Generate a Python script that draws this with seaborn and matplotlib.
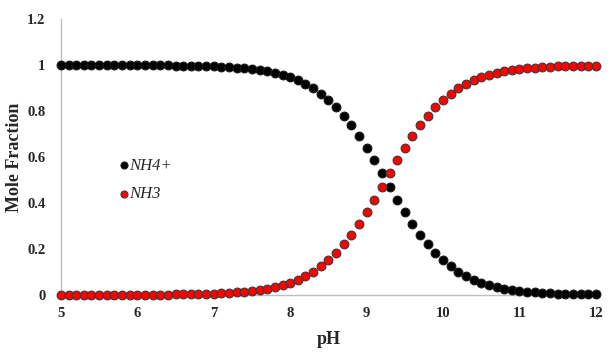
import matplotlib
matplotlib.use("Agg")
import matplotlib.pyplot as plt
import seaborn as sns
import pandas as pd

ph = [5.0, 5.1, 5.2, 5.3, 5.4, 5.5, 5.6, 5.7, 5.8, 5.9,
      6.0, 6.1, 6.2, 6.3, 6.4, 6.5, 6.6, 6.7, 6.8, 6.9,
      7.0, 7.1, 7.2, 7.3, 7.4, 7.5, 7.6, 7.7, 7.8, 7.9,
      8.0, 8.1, 8.2, 8.3, 8.4, 8.5, 8.6, 8.7, 8.8, 8.9,
      9.0, 9.1, 9.2, 9.3, 9.4, 9.5, 9.6, 9.7, 9.8, 9.9,
      10.0, 10.1, 10.2, 10.3, 10.4, 10.5, 10.6, 10.7, 10.8, 10.9,
      11.0, 11.1, 11.2, 11.3, 11.4, 11.5, 11.6, 11.7, 11.8, 11.9,
      12.0]

nh4 = [1.000, 1.000, 1.000, 1.000, 1.000, 1.000, 1.000, 1.000, 1.000, 0.999,
       0.999, 0.999, 0.999, 0.999, 0.999, 0.998, 0.998, 0.997, 0.996, 0.996,
       0.994, 0.993, 0.991, 0.989, 0.986, 0.983, 0.978, 0.973, 0.966, 0.957,
       0.947, 0.934, 0.918, 0.899, 0.876, 0.849, 0.817, 0.780, 0.738, 0.691,
       0.640, 0.585, 0.529, 0.471, 0.414, 0.360, 0.309, 0.262, 0.220, 0.183,
       0.151, 0.124, 0.101, 0.082, 0.066, 0.053, 0.043, 0.034, 0.027, 0.022,
       0.017, 0.014, 0.011, 0.009, 0.007, 0.006, 0.004, 0.004, 0.003, 0.002,
       0.002]

nh3 = [0.000, 0.000, 0.000, 0.000, 0.000, 0.000, 0.000, 0.000, 0.000, 0.001,
       0.001, 0.001, 0.001, 0.001, 0.001, 0.002, 0.002, 0.003, 0.004, 0.004,
       0.006, 0.007, 0.009, 0.011, 0.014, 0.017, 0.022, 0.027, 0.034, 0.043,
       0.053, 0.066, 0.082, 0.101, 0.124, 0.151, 0.183, 0.220, 0.262, 0.309,
       0.360, 0.414, 0.471, 0.529, 0.586, 0.640, 0.691, 0.738, 0.780, 0.817,
       0.849, 0.876, 0.899, 0.918, 0.934, 0.947, 0.957, 0.966, 0.973, 0.978,
       0.983, 0.986, 0.989, 0.991, 0.993, 0.994, 0.996, 0.996, 0.997, 0.998,
       0.998]

species = ["NH4+", "NH3"]
colors = {"NH4+": "#000000", "NH3": "#ff0000"}
edges = {"NH4+": "#1a1a1a", "NH3": "#3a3a3a"}

df = pd.concat([
    pd.DataFrame({"pH": ph, "frac": nh4, "species": "NH4+"}),
    pd.DataFrame({"pH": ph, "frac": nh3, "species": "NH3"}),
])

sns.set_style("white")
plt.rcParams["font.family"] = ["Liberation Serif", "DejaVu Serif"]

fig = plt.figure(figsize=(6.15, 3.54), dpi=100)
ax = fig.add_axes([0.099, 0.167, 0.870, 0.779])

for sp in species:
    sub = df[df["species"] == sp]
    sns.scatterplot(data=sub, x="pH", y="frac", ax=ax, color=colors[sp],
                    edgecolor=edges[sp], linewidth=0.8, s=40, zorder=3,
                    label=sp, clip_on=False)

ax.set_xlim(5, 12)
ax.set_ylim(0, 1.2)
ax.set_xticks([5, 6, 7, 8, 9, 10, 11, 12])
ax.set_xticklabels(["5", "6", "7", "8", "9", "10", "11", "12"])
ax.set_yticks([0, 0.2, 0.4, 0.6, 0.8, 1.0, 1.2])
ax.set_yticklabels(["0", "0.2", "0.4", "0.6", "0.8", "1", "1.2"])
ax.tick_params(axis="x", length=0, labelsize=10.5, pad=9)
ax.tick_params(axis="y", length=0, labelsize=10.5, pad=11)
for lab in ax.get_xticklabels() + ax.get_yticklabels():
    lab.set_fontweight("bold")

for side in ["top", "right"]:
    ax.spines[side].set_visible(False)
ax.spines["left"].set_color("#bfbfbf")
ax.spines["bottom"].set_color("#bfbfbf")
ax.spines["left"].set_linewidth(1.0)
ax.spines["bottom"].set_linewidth(1.0)

ax.set_xlabel("pH", fontsize=13, fontweight="bold", labelpad=8)
ax.set_ylabel("Mole Fraction", fontsize=13, fontweight="bold", labelpad=3)

leg = ax.legend(loc="center left", bbox_to_anchor=(0.097, 0.417), frameon=False,
                handletextpad=0.0, handlelength=0.6, labelspacing=0.75,
                borderaxespad=0, markerscale=0.8,
                prop={"family": "Liberation Serif", "style": "italic", "size": 12})

fig.savefig("out.png", dpi=100)
